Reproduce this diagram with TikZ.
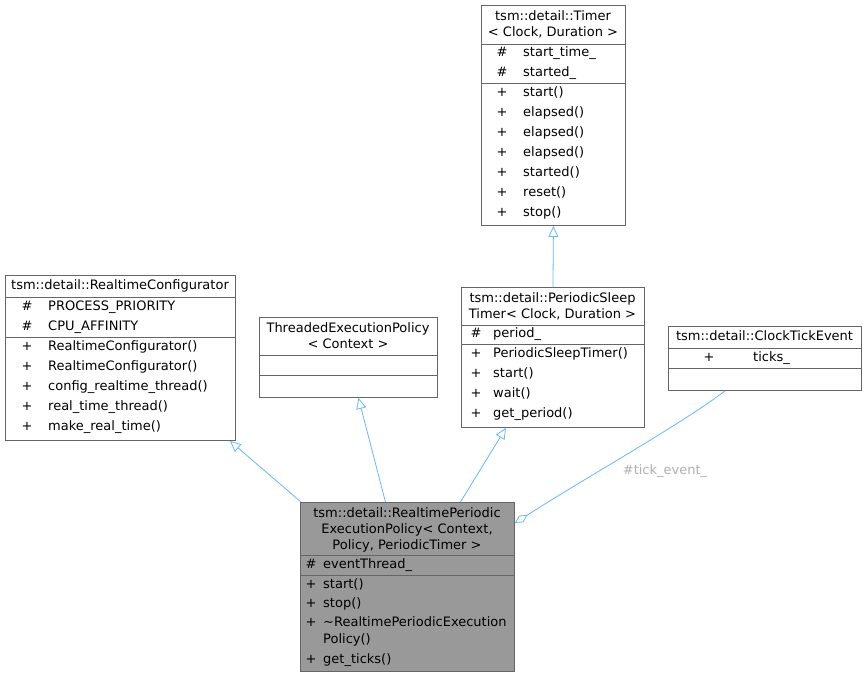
\documentclass[tikz,border=0pt]{standalone}
\usepackage{fontspec}
\setmainfont{DejaVu Sans}
\usetikzlibrary{arrows.meta,calc}
\definecolor{edgeblue}{HTML}{63B8FF}
\definecolor{boxline}{HTML}{666666}
\definecolor{mainfill}{HTML}{999999}
\definecolor{lblgray}{HTML}{B0B0B0}
\begin{document}
\begin{tikzpicture}[x=1pt,y=-1pt,
  box/.style={draw=boxline,line width=0.9pt,fill=white,inner sep=0,anchor=north west},
  sepline/.style={draw=boxline,line width=0.9pt},
  txt/.style={inner sep=0,yshift=-1pt,font=\fontsize{13}{16}\selectfont},
  lt/.style={txt,anchor=mid west},
  ct/.style={txt,anchor=mid},
  inherit/.style={draw=edgeblue,line width=0.8pt,-{Triangle[open,length=11pt,width=10pt]}},
  aggr/.style={draw=edgeblue,line width=0.8pt,-{Diamond[open,length=15pt,width=8pt]}}]
\useasboundingbox (0,0) rectangle (866,677);

% Timer
\node[box,minimum width=144pt,minimum height=220pt] (timer) at (481,5) {};
\draw[sepline] (481,44) -- (625,44);
\draw[sepline] (481,83) -- (625,83);
\node[ct] (t1) at (553,17) {tsm::detail::Timer};
\node[ct] (t2) at (553,33) {< Clock, Duration >};
\node[ct] (ta1) at (502,53) {\#}; \node[lt] (ta1t) at (523,53) {start\_time\_};
\node[ct] (ta2) at (502,73) {\#}; \node[lt] (ta2t) at (523,73) {started\_};
\node[ct] (tm1) at (502,93) {+}; \node[lt] (tm1t) at (523,93) {start()};
\node[ct] (tm2) at (502,113) {+}; \node[lt] (tm2t) at (523,113) {elapsed()};
\node[ct] (tm3) at (502,133) {+}; \node[lt] (tm3t) at (523,133) {elapsed()};
\node[ct] (tm4) at (502,153) {+}; \node[lt] (tm4t) at (523,153) {elapsed()};
\node[ct] (tm5) at (502,173) {+}; \node[lt] (tm5t) at (523,173) {started()};
\node[ct] (tm6) at (502,193) {+}; \node[lt] (tm6t) at (523,193) {reset()};
\node[ct] (tm7) at (502,213) {+}; \node[lt] (tm7t) at (523,213) {stop()};

% RealtimeConfigurator
\node[box,minimum width=230pt,minimum height=165pt] (rc) at (5,275) {};
\draw[sepline] (5,297) -- (235,297);
\draw[sepline] (5,337) -- (235,337);
\node[ct] (rct) at (120,286) {tsm::detail::RealtimeConfigurator};
\node[ct] (ra1) at (27,307) {\#}; \node[lt] (ra1t) at (48,307) {PROCESS\_PRIORITY};
\node[ct] (ra2) at (27,327) {\#}; \node[lt] (ra2t) at (48,327) {CPU\_AFFINITY};
\node[ct] (rm1) at (27,347) {+}; \node[lt] (rm1t) at (48,347) {RealtimeConfigurator()};
\node[ct] (rm2) at (27,367) {+}; \node[lt] (rm2t) at (48,367) {RealtimeConfigurator()};
\node[ct] (rm3) at (27,387) {+}; \node[lt] (rm3t) at (48,387) {config\_realtime\_thread()};
\node[ct] (rm4) at (27,407) {+}; \node[lt] (rm4t) at (48,407) {real\_time\_thread()};
\node[ct] (rm5) at (27,427) {+}; \node[lt] (rm5t) at (48,427) {make\_real\_time()};

% ThreadedExecutionPolicy
\node[box,minimum width=178pt,minimum height=80pt] (tep) at (259,317) {};
\draw[sepline] (259,355) -- (437,355);
\draw[sepline] (259,375) -- (437,375);
\node[ct] (tep1) at (348,329) {ThreadedExecutionPolicy};
\node[ct] (tep2) at (348,345) {< Context >};

% PeriodicSleepTimer
\node[box,minimum width=183pt,minimum height=140pt] (pst) at (461,287) {};
\draw[sepline] (461,325) -- (644,325);
\draw[sepline] (461,344) -- (644,344);
\node[ct] (p1) at (552.5,299) {tsm::detail::PeriodicSleep};
\node[ct] (p2) at (552.5,315) {Timer< Clock, Duration >};
\node[ct] (pa1) at (476,334) {\#}; \node[lt] (pa1t) at (493,334) {period\_};
\node[ct] (pm1) at (476,354) {+}; \node[lt] (pm1t) at (493,354) {PeriodicSleepTimer()};
\node[ct] (pm2) at (476,374) {+}; \node[lt] (pm2t) at (493,374) {start()};
\node[ct] (pm3) at (476,394) {+}; \node[lt] (pm3t) at (493,394) {wait()};
\node[ct] (pm4) at (476,414) {+}; \node[lt] (pm4t) at (493,414) {get\_period()};

% ClockTickEvent
\node[box,minimum width=193pt,minimum height=64pt] (cte) at (668,326) {};
\draw[sepline] (668,348) -- (861,348);
\draw[sepline] (668,368) -- (861,368);
\node[ct] (c1) at (764.5,337) {tsm::detail::ClockTickEvent};
\node[ct] (ca1) at (709,358) {+}; \node[lt] (ca1t) at (753,358) {ticks\_};

% RealtimePeriodicExecutionPolicy
\node[box,fill=mainfill,minimum width=214pt,minimum height=169pt] (rp) at (300,502) {};
\draw[sepline] (300,555) -- (514,555);
\draw[sepline] (300,575) -- (514,575);
\node[ct] (r1) at (407,514) {tsm::detail::RealtimePeriodic};
\node[ct] (r2) at (407,530) {ExecutionPolicy< Context,};
\node[ct] (r3) at (407,546) {Policy, PeriodicTimer >};
\node[ct] (qa1) at (311,565) {\#}; \node[lt] (qa1t) at (323,565) {eventThread\_};
\node[ct] (qm1) at (311,585) {+}; \node[lt] (qm1t) at (323,585) {start()};
\node[ct] (qm2) at (311,604) {+}; \node[lt] (qm2t) at (323,604) {stop()};
\node[ct] (qm3) at (311,623) {+}; \node[lt] (qm3t) at (323,623) {\textasciitilde RealtimePeriodicExecution};
\node[lt] (qm3u) at (323,640) {Policy()};
\node[ct] (qm4) at (311,660) {+}; \node[lt] (qm4t) at (323,660) {get\_ticks()};

% connectors
\draw[inherit] (pst.north) -- (timer.south);
\draw[inherit] ($(rp.north west)+(1,0)$) -- ($(rc.south east)+(-6,0)$);
\draw[inherit] ($(rp.north)+(-22,0)$) -- ($(tep.south)+(10,0)$);
\draw[inherit] ($(rp.north)+(53,0)$) -- ($(pst.south)+(-47,0)$);
\coordinate (cstart) at ($(cte.south west)+(57,0)$);
\coordinate (ctip) at ($(rp.north east)+(0,21)$);
\draw[aggr] (cstart) .. controls (680,425) and (590,475) .. (ctip);
\node[txt,text=lblgray] (lbl) at (665,470) {\#tick\_event\_};
\end{tikzpicture}
\end{document}
